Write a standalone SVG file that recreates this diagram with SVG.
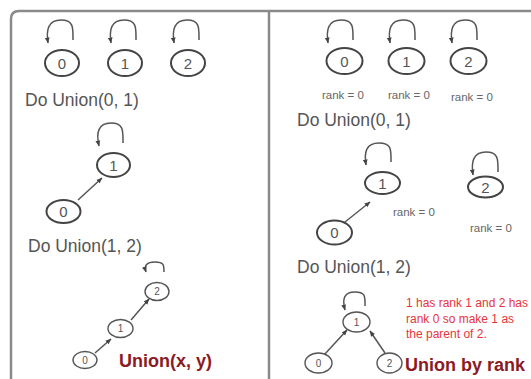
<svg xmlns="http://www.w3.org/2000/svg" width="531" height="379" viewBox="0 0 531 379">
  <defs>
    <marker id="arrow" viewBox="0 0 10 10" refX="9" refY="5" markerWidth="6" markerHeight="6" markerUnits="userSpaceOnUse" orient="auto">
      <path d="M0,1 L10,5 L0,9 Z" fill="#444"/>
    </marker>
    <style>
      .frame { fill: none; stroke: #8a8a8a; stroke-width: 2.5; }
      .node { fill: #fff; stroke: #444; stroke-width: 2; }
      .snode { fill: #fff; stroke: #555; stroke-width: 1.4; }
      .lbl { font-family: "Liberation Sans", Arial, sans-serif; font-size: 15px; fill: #555; text-anchor: middle; dominant-baseline: central; }
      .slbl { font-family: "Liberation Sans", Arial, sans-serif; font-size: 10px; fill: #555; text-anchor: middle; dominant-baseline: central; }
      .step { font-family: "Liberation Sans", Arial, sans-serif; font-size: 17.5px; fill: #555; }
      .rank { font-family: "Liberation Sans", Arial, sans-serif; font-size: 11.5px; fill: #666; }
      .title { font-family: "Liberation Sans", Arial, sans-serif; font-size: 18px; font-weight: bold; fill: #8b1a24; }
      .note { font-family: "Liberation Sans", Arial, sans-serif; font-size: 12px; fill: #e8343c; }
      .edge { fill: none; stroke: #555; stroke-width: 1.5; marker-end: url(#arrow); }
    </style>
  </defs>

  <rect width="531" height="379" fill="#fff"/>

  <!-- panel frame -->
  <path class="frame" d="M11 379 V19 Q11 11 19 11 H531"/>
  <line class="frame" x1="269" y1="11" x2="269" y2="379"/>

  <!-- connectors -->
  <g id="connectors">
    <!-- left panel: initial self loops -->
    <path class="edge" d="M73 40 C73 28 74 20 61 20 C48 20 46 30 48 43"/>
    <path class="edge" d="M136 40 C136 28 137 20 124 20 C111 20 109 30 111 43"/>
    <path class="edge" d="M199 40 C199 28 200 20 187 20 C174 20 172 30 174 43"/>
    <!-- left panel: after Union(0,1) -->
    <path class="edge" d="M123 143 C123 131 124 123 111 123 C98 123 96 133 99 146"/>
    <path class="edge" d="M78 200 L102 178"/>
    <!-- left panel: after Union(1,2) -->
    <path class="edge" d="M164 272 C164 265 164 262 155 262 C146 262 144 266 146 272"/>
    <path class="edge" d="M131 320 L149 299"/>
    <path class="edge" d="M95 353 L111 339"/>
    <!-- right panel: initial self loops -->
    <path class="edge" d="M353 40 C353 28 354 20 341 20 C328 20 326 30 328 43"/>
    <path class="edge" d="M415 40 C415 28 416 20 403 20 C390 20 388 30 390 43"/>
    <path class="edge" d="M477 40 C477 28 478 20 465 20 C452 20 450 30 452 43"/>
    <!-- right panel: after Union(0,1) -->
    <path class="edge" d="M391 162 C391 150 392 143 379 143 C366 143 364 152 366 165"/>
    <path class="edge" d="M498 172 C498 160 499 152 486 152 C473 152 471 162 473 175"/>
    <path class="edge" d="M345 222 L370 202"/>
    <!-- right panel: after Union(1,2) -->
    <path class="edge" d="M365 306 C365 297 366 292 355 292 C344 292 342 299 345 310"/>
    <path class="edge" d="M324 355 L347 330"/>
    <path class="edge" d="M385 353 L370 331"/>
  </g>

  <!-- left panel nodes -->
  <g id="L-a0"><ellipse class="node" cx="62" cy="63" rx="17" ry="13"/><text class="lbl" x="62" y="63">0</text></g>
  <g id="L-a1"><ellipse class="node" cx="125" cy="63" rx="17" ry="13"/><text class="lbl" x="125" y="63">1</text></g>
  <g id="L-a2"><ellipse class="node" cx="188" cy="63" rx="17" ry="13"/><text class="lbl" x="188" y="63">2</text></g>
  <text class="step" x="25" y="106">Do Union(0, 1)</text>

  <g id="L-b1"><ellipse class="node" cx="113.5" cy="165" rx="16.5" ry="12"/><text class="lbl" x="113.5" y="165">1</text></g>
  <g id="L-b0"><ellipse class="node" cx="63.5" cy="211.5" rx="17" ry="11.5"/><text class="lbl" x="63.5" y="211.5">0</text></g>
  <text class="step" x="28" y="252">Do Union(1, 2)</text>

  <g id="L-c2"><ellipse class="snode" cx="157" cy="291.5" rx="12" ry="9"/><text class="slbl" x="157" y="291.5">2</text></g>
  <g id="L-c1"><ellipse class="snode" cx="120.5" cy="328.5" rx="12.5" ry="9"/><text class="slbl" x="120.5" y="328.5">1</text></g>
  <g id="L-c0"><ellipse class="snode" cx="85" cy="360" rx="12" ry="8.5"/><text class="slbl" x="85" y="360">0</text></g>
  <text class="title" x="119" y="367">Union(x, y)</text>

  <!-- right panel nodes -->
  <g id="R-a0"><ellipse class="node" cx="344.5" cy="61" rx="18" ry="13"/><text class="lbl" x="344.5" y="61">0</text></g>
  <g id="R-a1"><ellipse class="node" cx="406.5" cy="61" rx="18" ry="13"/><text class="lbl" x="406.5" y="61">1</text></g>
  <g id="R-a2"><ellipse class="node" cx="468.5" cy="61" rx="18" ry="13"/><text class="lbl" x="468.5" y="61">2</text></g>
  <text class="rank" x="322" y="99">rank = 0</text>
  <text class="rank" x="388" y="99">rank = 0</text>
  <text class="rank" x="451" y="101">rank = 0</text>
  <text class="step" x="297" y="126">Do Union(0, 1)</text>

  <g id="R-b1"><ellipse class="node" cx="382.5" cy="183" rx="17.5" ry="11"/><text class="lbl" x="382.5" y="183">1</text></g>
  <g id="R-b2"><ellipse class="node" cx="485.5" cy="187" rx="17.5" ry="10.5"/><text class="lbl" x="485.5" y="187">2</text></g>
  <g id="R-b0"><ellipse class="node" cx="334.5" cy="232.5" rx="17.5" ry="12"/><text class="lbl" x="334.5" y="232.5">0</text></g>
  <text class="rank" x="393" y="216">rank = 0</text>
  <text class="rank" x="470" y="232">rank = 0</text>
  <text class="step" x="297" y="273">Do Union(1, 2)</text>

  <g id="R-c1"><ellipse class="snode" cx="356.5" cy="322" rx="13.5" ry="10"/><text class="slbl" x="356.5" y="322">1</text></g>
  <g id="R-c0"><ellipse class="snode" cx="318.5" cy="363" rx="13.5" ry="10"/><text class="slbl" x="318.5" y="363">0</text></g>
  <g id="R-c2"><ellipse class="snode" cx="389.5" cy="363" rx="12.5" ry="10"/><text class="slbl" x="389.5" y="363">2</text></g>
  <text class="note" x="406" y="307" textLength="122" lengthAdjust="spacingAndGlyphs">1 has rank 1 and 2 has</text>
  <text class="note" x="406" y="323">rank 0 so make 1 as</text>
  <text class="note" x="406" y="338">the parent of 2.</text>
  <text class="title" x="405" y="371">Union by rank</text>
</svg>
